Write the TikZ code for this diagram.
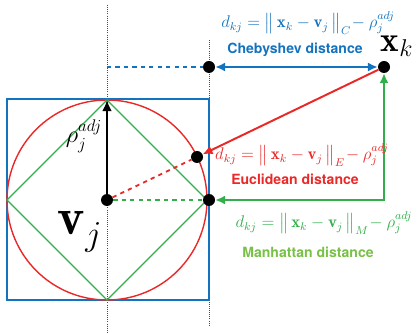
\documentclass[tikz,border=0pt]{standalone}
\usepackage{amsmath,amssymb}
\usepackage{fontspec}
\newfontfamily\labelfont{TeX Gyre Heros}
\usepackage{tikz}
\usetikzlibrary{arrows.meta,calc,positioning}
\definecolor{cheb}{RGB}{20,115,190}
\definecolor{eucl}{RGB}{235,40,40}
\definecolor{manh}{RGB}{50,175,75}
\definecolor{manhtxt}{RGB}{120,192,70}

\begin{document}
\begin{tikzpicture}[x=0.025cm,y=-0.025cm,
  pt/.style={circle,fill=black,inner sep=0pt,minimum size=12*0.025cm},
  guide/.style={densely dotted,black!70,line width=0.5pt},
  fml/.style={font=\fontsize{12}{14}\selectfont,inner sep=0pt},
  dname/.style={font=\labelfont\bfseries\fontsize{10}{12}\selectfont,inner sep=0pt}]
  \useasboundingbox (0,0) rectangle (419,333);
  % guides
  \draw[guide] (107,5) -- (107,333);
  \draw[guide] (209,40) -- (209,325);
  % shapes around v_j
  \draw[cheb,line width=1.3pt] (7,99) rectangle (209,300);
  \draw[eucl,line width=1pt] (107,200) circle (100);
  \draw[manh,line width=0.8pt] (107,100) -- (207,200) -- (107,300) -- (7,200) -- cycle;
  % points
  \coordinate (top) at (107,67);
  \coordinate (rad) at (107,100);
  \node[pt] (vj) at (107,200) {};
  \node[pt] (xk) at (384,67) {};
  \node[pt] (cb) at (209,67) {};
  \node[pt] (eu) at (197,157) {};
  \node[pt] (mh) at (209,200) {};
  % dashed radii
  \draw[cheb,dashed,line width=1.3pt] (top) -- (cb);
  \draw[eucl,dashed,line width=1.3pt] (vj) -- (eu);
  \draw[manh,dashed,line width=1.3pt] (vj) -- (mh);
  \draw[-{Latex[length=8pt,width=7pt]},line width=1.4pt] (vj) -- (rad);
  % distances
  \draw[{Latex[length=7pt,width=6.5pt]}-{Latex[length=7pt,width=6.5pt]},cheb,line width=1.4pt] (cb) -- (xk);
  \draw[-{Latex[length=7pt,width=6.5pt]},eucl,line width=1.4pt] (xk) -- (eu);
  \draw[{Latex[length=7pt,width=6.5pt]}-{Latex[length=7pt,width=6.5pt]},manh,line width=1.4pt] (mh) -| (xk);
  % labels
  \node[font=\fontsize{37}{40}\selectfont] (vjlab) at (80,232) {$\mathbf{v}_j$};
  \node[font=\fontsize{25}{28}\selectfont,inner sep=0pt] (xklab) at (397,46) {$\mathbf{x}_k$};
  \node[font=\fontsize{17}{19}\selectfont] (rholab) at (84,136) {$\rho_j^{adj}$};
  \node[fml,text=cheb] (cbf) at (308,23) {$d_{kj} = \big\|\, \mathbf{x}_k - \mathbf{v}_j \,\big\|_{C} \!- \rho_j^{adj}$};
  \node[dname,text=cheb] (cbn) at (295,50) {Chebyshev distance};
  \node[fml,text=eucl] (euf) at (302,155) {$d_{kj} = \big\|\, \mathbf{x}_k - \mathbf{v}_j \,\big\|_{E} \!- \rho_j^{adj}$};
  \node[dname,text=eucl] (eun) at (295,179) {Euclidean distance};
  \node[fml,text=manh] (mhf) at (324,223) {$d_{kj} = \big\|\, \mathbf{x}_k - \mathbf{v}_j \,\big\|_{M} \!- \rho_j^{adj}$};
  \node[dname,text=manhtxt] (mhn) at (308,252) {Manhattan distance};
\end{tikzpicture}
\end{document}
